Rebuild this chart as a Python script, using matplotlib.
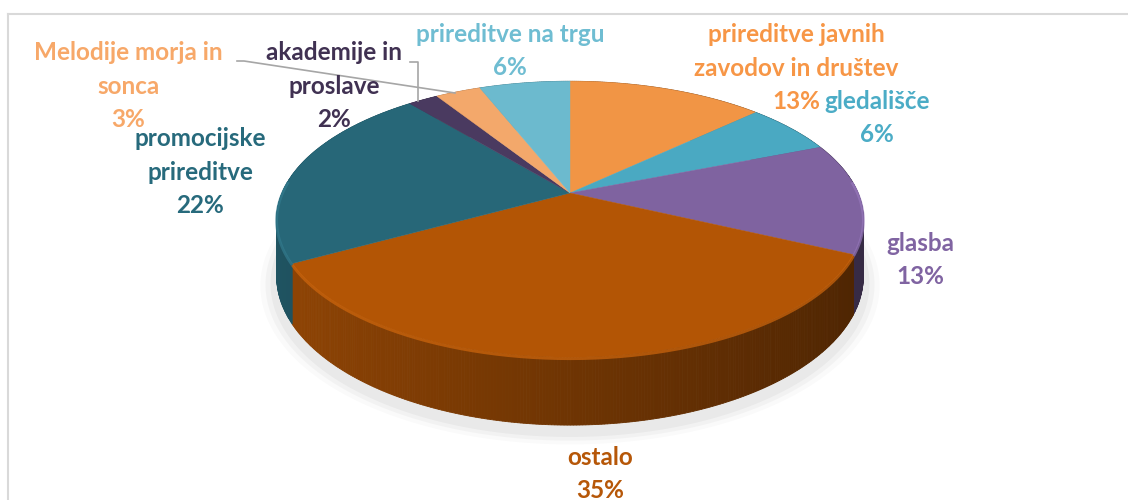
import numpy as np
import matplotlib
matplotlib.use("Agg")
import matplotlib.pyplot as plt
from matplotlib.patches import Polygon
from matplotlib.colors import to_rgb

# ---------------- data ----------------
labels = ["prireditve javnih\nzavodov in društev", "gledališče", "glasba", "ostalo",
          "promocijske\nprireditve", "akademije in\nproslave", "Melodije morja in\nsonca",
          "prireditve na trgu"]
values = [13, 6, 13, 35, 22, 2, 3, 6]
slice_colors = ["#F19545", "#4AA9C2", "#7F63A0", "#B35505",
                "#276778", "#4A3A60", "#F3A86B", "#6CBACE"]
label_colors = ["#F79646", "#4BACC6", "#8064A2", "#B65708",
                "#276A7C", "#403152", "#F7A869", "#6FBDD2"]
# label anchor (pixels) - layout only
label_pos = [(796, 68), (877, 118), (920, 260), (600, 474),
             (200, 172), (334, 86), (128, 86), (510, 51)]

W, H = 1128, 500
fig = plt.figure(figsize=(W / 100, H / 100), dpi=100)
ax = fig.add_axes([0, 0, 1, 1])

# use the library's pie to get wedge angles (unit circle), then project in perspective
tmp = ax.pie(values, startangle=90, counterclock=False, radius=1)
wedges = tmp[0]
angles = [(w.theta1, w.theta2) for w in wedges]
for w in wedges:
    w.remove()
ax.set_aspect("auto")
ax.set_xlim(0, W)
ax.set_ylim(H, 0)
ax.axis("off")

cx, cy, R, Ry, k, D = 570, 193, 288, 133, 0.19, 55


def proj(theta_deg, r=1.0, drop=0.0):
    t = np.radians(theta_deg)
    u, v = r * np.cos(t), r * np.sin(t)
    d = 1 + k * v
    return cx + R * u / d, cy - Ry * v / d + drop / d


# shadow
th = np.linspace(0, 360, 361)
for g, a in [(16, 0.04), (11, 0.06), (6, 0.08)]:
    xs, ys = proj(th, 1.0 + g / 300, D + 6)
    ax.add_patch(Polygon(np.c_[xs, ys], closed=True, fc="#808080", ec="none",
                         alpha=a, zorder=0))

# side walls
for (t1, t2), col in zip(angles, slice_colors):
    base = np.array(to_rgb(col))
    ts = np.linspace(t1, t2, max(3, int((t2 - t1) * 2)))
    for a0, a1 in zip(ts[:-1], ts[1:]):
        x0, y0 = proj(a0)
        x1, y1 = proj(a1)
        x0b, y0b = proj(a0, drop=D)
        x1b, y1b = proj(a1, drop=D)
        um = np.cos(np.radians((a0 + a1) / 2))
        f = 0.62 - 0.2 * um
        c = np.clip(base * f, 0, 1)
        ax.add_patch(Polygon([(x0, y0), (x1, y1), (x1b, y1b), (x0b, y0b)], closed=True,
                             fc=c, ec=c, lw=0.6, zorder=1))

# top faces
for (t1, t2), col in zip(angles, slice_colors):
    ts = np.linspace(t1, t2, max(3, int((t2 - t1) * 2)))
    xs, ys = proj(ts)
    pts = np.vstack([[cx, cy], np.c_[xs, ys]])
    ax.add_patch(Polygon(pts, closed=True, fc=col, ec=col, lw=0.3, zorder=2))
    base = np.array(to_rgb(col))
    hl = np.clip(base * 1.12 + 0.03, 0, 1)
    mask = np.sin(np.radians(ts)) < 0.1
    if mask.sum() > 1:
        ax.plot(xs[mask], ys[mask] + 1.5, color=hl, lw=2.0, alpha=0.7, zorder=3,
                solid_capstyle="butt")

# labels: one text per line
pct = [f"{v}%" for v in values]
font = dict(family=["Lato", "DejaVu Sans"], fontsize=17.5, fontweight="bold")
step = 33.5
for lab, p, (x, y), c in zip(labels, pct, label_pos, label_colors):
    lines = lab.split("\n") + [p]
    n = len(lines)
    for i, ln in enumerate(lines):
        yy = y + (i - (n - 1) / 2) * step
        ax.text(x, yy, ln, ha="center", va="center", color=c, zorder=5, **font)

# leader lines
ax.plot([237, 244, 455], [61, 61, 93], color="#A6A6A6", lw=1.2, zorder=4)
ax.plot([410, 418, 418], [62, 62, 101], color="#A6A6A6", lw=1.2, zorder=4)

# frame
ax.plot([8, W], [14, 14], color="#D9D9D9", lw=1.5, zorder=0)
ax.plot([8, 8], [14, H], color="#D9D9D9", lw=1.5, zorder=0)

fig.savefig("out.png", dpi=100, facecolor="white")
